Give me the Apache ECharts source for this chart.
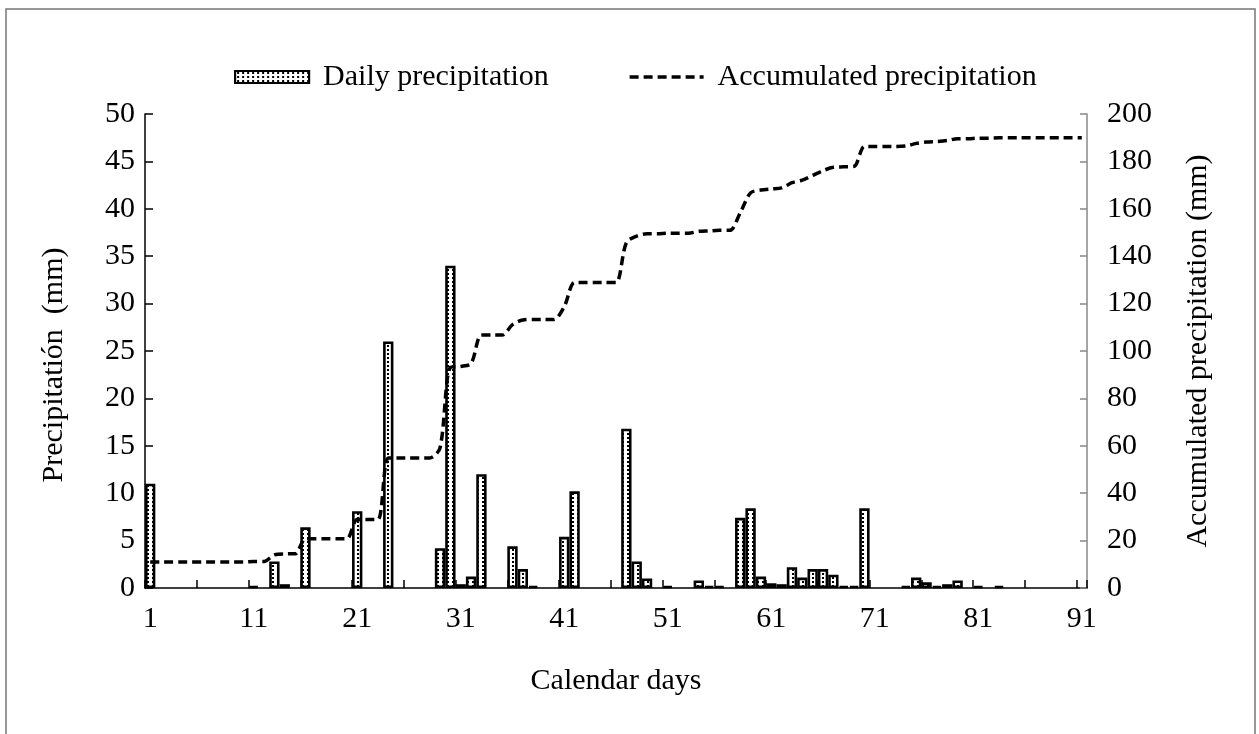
<!DOCTYPE html>
<html>
<head>
<meta charset="utf-8">
<script src="https://cdn.jsdelivr.net/npm/echarts@6/dist/echarts.min.js"></script>
<style>
  html, body { margin: 0; padding: 0; background: #fff; }
  #chart { width: 1259px; height: 734px; }
</style>
</head>
<body>
<div id="chart"></div>
<script>
// ---- data ----
const dayCount = 91;
const days = Array.from({ length: dayCount }, (_, i) => String(i + 1));

const dailyPrecip = [
  11.0, 0, 0, 0, 0, 0, 0, 0, 0, 0,
  0.2, 0, 2.8, 0.4, 0, 6.4, 0, 0, 0, 0,
  8.1, 0, 0, 26.0, 0, 0, 0, 0, 4.2, 34.0,
  0.4, 1.2, 12.0, 0, 0, 4.4, 2.0, 0.2, 0, 0,
  5.4, 10.2, 0, 0, 0, 0, 16.8, 2.8, 1.0, 0,
  0.2, 0, 0, 0.8, 0.2, 0.2, 0, 7.4, 8.4, 1.2,
  0.5, 0.4, 2.2, 1.1, 2.0, 2.0, 1.4, 0.2, 0.2, 8.4,
  0, 0, 0, 0.2, 1.1, 0.6, 0.2, 0.4, 0.8, 0,
  0.2, 0, 0.2, 0, 0, 0, 0, 0, 0, 0,
  0
];

const accumPrecip = [
  11.0, 11.0, 11.0, 11.0, 11.0, 11.0, 11.0, 11.0, 11.0, 11.0,
  11.2, 11.2, 14.0, 14.4, 14.4, 20.8, 20.8, 20.8, 20.8, 20.8,
  28.9, 28.9, 28.9, 54.9, 54.9, 54.9, 54.9, 54.9, 59.1, 93.1,
  93.5, 94.7, 106.7, 106.7, 106.7, 111.1, 113.1, 113.3, 113.3, 113.3,
  118.7, 128.9, 128.9, 128.9, 128.9, 128.9, 145.7, 148.5, 149.5, 149.5,
  149.7, 149.7, 149.7, 150.5, 150.7, 150.9, 150.9, 158.3, 166.7, 167.9,
  168.4, 168.8, 171.0, 172.1, 174.1, 176.1, 177.5, 177.7, 177.9, 186.3,
  186.3, 186.3, 186.3, 186.5, 187.6, 188.2, 188.4, 188.8, 189.6, 189.6,
  189.8, 189.8, 190.0, 190.0, 190.0, 190.0, 190.0, 190.0, 190.0, 190.0,
  190.0
];

const seriesNames = ['Daily precipitation', 'Accumulated precipitation'];
const leftAxisName = 'Precipitatión  (mm)';
const rightAxisName = 'Accumulated precipitation (mm)';
const xAxisName = 'Calendar days';

// ---- fill pattern (dotted) ----
const pat = document.createElement('canvas');
pat.width = 5; pat.height = 4;
const pctx = pat.getContext('2d');
pctx.fillStyle = '#ffffff';
pctx.fillRect(0, 0, 5, 4);
pctx.fillStyle = '#000000';
pctx.fillRect(2, 1, 2, 2);

const FONT = '"Liberation Serif", "DejaVu Serif", serif';
const FS = 30;
const dash = [9, 5];

// zero-rain days draw no bar
const barData = dailyPrecip.map(v => (v === 0 ? '-' : v));

const chart = echarts.init(document.getElementById('chart'), null, { renderer: 'canvas' });
chart.setOption({
  backgroundColor: '#ffffff',
  animation: false,
  textStyle: { fontFamily: FONT, color: '#000' },
  graphic: [{
    type: 'rect',
    shape: { x: 6, y: 9, width: 1249, height: 740 },
    style: { fill: 'none', stroke: '#777', lineWidth: 1.5 },
    silent: true, z: -10
  }],
  legend: {
    top: 57,
    left: 229,
    itemWidth: 74,
    itemHeight: 12,
    itemGap: 79,
    textStyle: { fontFamily: FONT, fontSize: FS, color: '#000', padding: [0, 0, 0, 9] },
    data: [
      { name: seriesNames[0], icon: 'rect', itemStyle: { borderWidth: 2.2, borderColor: '#000' } },
      { name: seriesNames[1],
        itemStyle: { color: 'rgba(0,0,0,0)', borderColor: 'rgba(0,0,0,0)', borderWidth: 0 },
        lineStyle: { color: '#000', width: 3.5, type: dash } }
    ]
  },
  grid: { left: 145, right: 172, top: 114, bottom: 146, containLabel: false },
  xAxis: {
    type: 'category',
    data: days,
    boundaryGap: true,
    name: xAxisName,
    nameLocation: 'middle',
    nameGap: 78,
    nameTextStyle: { fontFamily: FONT, fontSize: FS, color: '#000' },
    axisLine: { show: true, lineStyle: { color: '#000', width: 1.5 } },
    axisTick: { show: true, inside: true, length: 8, interval: 4, lineStyle: { color: '#000', width: 1.5 } },
    axisLabel: { interval: 9, margin: 16, fontFamily: FONT, fontSize: FS, color: '#000' },
    splitLine: { show: false }
  },
  yAxis: [{
    type: 'value',
    min: 0, max: 50, interval: 5,
    position: 'left',
    name: leftAxisName,
    nameLocation: 'middle',
    nameRotate: 90,
    nameGap: 76,
    nameTextStyle: { fontFamily: FONT, fontSize: FS, color: '#000', padding: [0, 28, 0, 0] },
    axisLine: { show: true, lineStyle: { color: '#000', width: 1.5 } },
    axisTick: { show: true, inside: true, length: 8, lineStyle: { color: '#000', width: 1.5 } },
    axisLabel: { margin: 10, fontFamily: FONT, fontSize: FS, color: '#000' },
    splitLine: { show: false }
  }, {
    type: 'value',
    min: 0, max: 200, interval: 20,
    position: 'right',
    name: rightAxisName,
    nameLocation: 'middle',
    nameRotate: 90,
    nameGap: 96,
    nameTextStyle: { fontFamily: FONT, fontSize: FS, color: '#000' },
    axisLine: { show: true, lineStyle: { color: '#888', width: 1.5 } },
    axisTick: { show: true, inside: true, length: 7, lineStyle: { color: '#888', width: 1.5 } },
    axisLabel: { margin: 20, fontFamily: FONT, fontSize: FS, color: '#000' },
    splitLine: { show: false }
  }],
  series: [{
    name: seriesNames[0],
    type: 'bar',
    yAxisIndex: 0,
    data: barData,
    barCategoryGap: '0%',
    itemStyle: {
      color: { image: pat, repeat: 'repeat' },
      borderColor: '#000',
      borderWidth: 2.6
    },
    z: 2
  }, {
    name: seriesNames[1],
    type: 'line',
    yAxisIndex: 1,
    data: accumPrecip,
    symbol: 'none',
    smooth: 0.3,
    lineStyle: { color: '#000', width: 3.5, type: dash },
    itemStyle: { color: '#000' },
    z: 3
  }]
});
</script>
</body>
</html>
